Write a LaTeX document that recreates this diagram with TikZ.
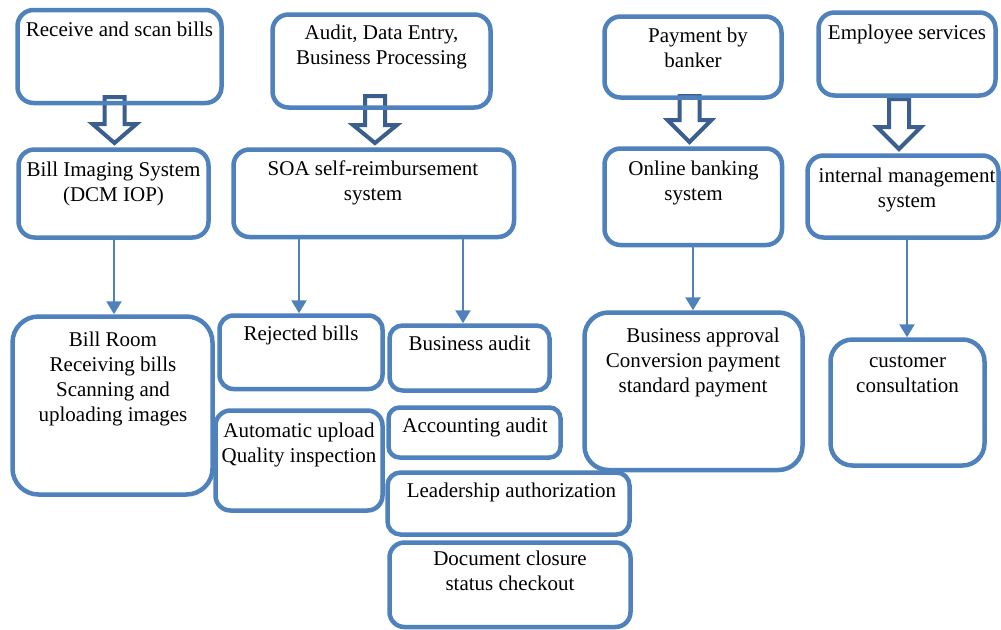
\documentclass[tikz,border=0pt]{standalone}
\usepackage{fontspec}
\setmainfont{Liberation Serif}
\usetikzlibrary{arrows.meta,calc}
\definecolor{boxblue}{HTML}{4F81BD}
\definecolor{darkblue}{HTML}{3A5F8F}
\newcommand\hollowarrow[4]{%
  \draw[hollow] (#1-10,#2) -- (#1+10,#2) -- (#1+10,#3) -- (#1+22,#3) -- (#1,#4) -- (#1-22,#3) -- (#1-10,#3) -- cycle;}
\newcommand\fs{\rule{0pt}{17.5pt}}
\begin{document}
\begin{tikzpicture}[x=1pt,y=-1pt,
  box/.style={draw=boxblue, line width=4.5pt, rounded corners=#1, inner sep=0pt},
  box/.default=16pt,
  txt/.style={anchor=north, inner sep=0pt, align=center, font=\fontsize{21}{25}\selectfont},
  link/.style={draw=boxblue, line width=2.5pt, -{Triangle[width=15pt,length=13pt]}},
  hollow/.style={draw=darkblue, line width=4pt, fill=white, line join=miter}
]
\useasboundingbox (0,0) rectangle (1001,629);

% hollow arrows (drawn first, under the boxes)
\hollowarrow{114.5}{97}{124}{143}
\hollowarrow{375}{96}{125}{143}
\hollowarrow{689.5}{96}{120}{142}
\hollowarrow{899}{99}{127}{149}

% boxes
\node[box, minimum width=204pt, minimum height=93pt] (b1) at (119.5,56.5) {};
\node[box, minimum width=218pt, minimum height=93pt] (b2) at (381.5,61) {};
\node[box, minimum width=177pt, minimum height=81pt] (b3) at (693,57) {};
\node[box, minimum width=177pt, minimum height=83pt] (b4) at (907,54) {};
\node[box, minimum width=190pt, minimum height=88pt] (b5) at (113.5,193.5) {};
\node[box, minimum width=280.5pt, minimum height=87.5pt] (b6) at (373.75,193.25) {};
\node[box, minimum width=177.5pt, minimum height=96.5pt] (b7) at (693.25,196.75) {};
\node[box, minimum width=191pt, minimum height=82pt] (b8) at (903,196.5) {};
\node[box=26pt, minimum width=200pt, minimum height=178pt] (b9) at (112.5,405.5) {};
\node[box=14pt, minimum width=163pt, minimum height=73.5pt] (b10) at (301,352.25) {};
\node[box=13pt, minimum width=160pt, minimum height=65pt] (b11) at (469.5,358) {};
\node[box=15pt, minimum width=167pt, minimum height=100pt] (b12) at (299,460.5) {};
\node[box=11pt, minimum width=172pt, minimum height=50pt] (b13) at (474.5,432.5) {};
\node[box=13pt, minimum width=242pt, minimum height=62pt] (b14) at (508.5,503.5) {};
\node[box=15pt, minimum width=241pt, minimum height=84.5pt] (b15) at (510,584.75) {};
\node[box=24pt, minimum width=218pt, minimum height=157.5pt] (b16) at (693.5,391.25) {};
\node[box=22pt, minimum width=154pt, minimum height=126pt] (b17) at (907.5,402.5) {};

% thin connectors
\coordinate (x1) at (114,0);
\coordinate (x2) at (299,0);
\coordinate (x3) at (463,0);
\coordinate (x4) at (693,0);
\coordinate (x5) at (907,0);
\draw[link] (x1 |- b5.south) -- (x1 |- b9.north);
\draw[link] (x2 |- b6.south) -- (x2 |- b10.north);
\draw[link] (x3 |- b6.south) -- (x3 |- b11.north);
\draw[link] (x4 |- b7.south) -- (x4 |- b16.north);
\draw[link] (x5 |- b8.south) -- (x5 |- b17.north);

% texts
\node[txt] (t1) at (119.5,19) {\fs Receive and scan bills};
\node[txt] (t2) at (381.5,22) {\fs Audit, Data Entry,\\Business Processing};
\node[txt] (t3) at (693,24.5) {\fs\hspace*{10pt}Payment by\\banker};
\node[txt] (t4) at (907,21.5) {\fs Employee services};
\node[txt] (t5) at (113.5,158.5) {\fs Bill Imaging System\\(DCM IOP)};
\node[txt] (t6) at (373,157.5) {\fs SOA self-reimbursement\\system};
\node[txt] (t7) at (693.5,157.5) {\fs Online banking\\system};
\node[txt] (t8) at (907,164.5) {\fs internal management\\system};
\node[txt] (t9) at (113,328.5) {\fs Bill Room\\Receiving bills\\Scanning and\\uploading images};
\node[txt] (t10) at (301,322.5) {\fs Rejected bills};
\node[txt] (t11) at (469.5,332.5) {\fs Business audit};
\node[txt] (t12) at (299,419.5) {\fs Automatic upload\\Quality inspection};
\node[txt] (t13) at (475,414.5) {\fs Accounting audit};
\node[txt] (t14) at (511.5,479.5) {\fs Leadership authorization};
\node[txt] (t15) at (510,547.5) {\fs Document closure\\status checkout};
\node[txt] (t16) at (693,324.5) {\fs\hspace*{20pt}Business approval\\Conversion payment\\standard payment};
\node[txt] (t17) at (907.5,349.5) {\fs customer\\consultation};
\end{tikzpicture}
\end{document}
